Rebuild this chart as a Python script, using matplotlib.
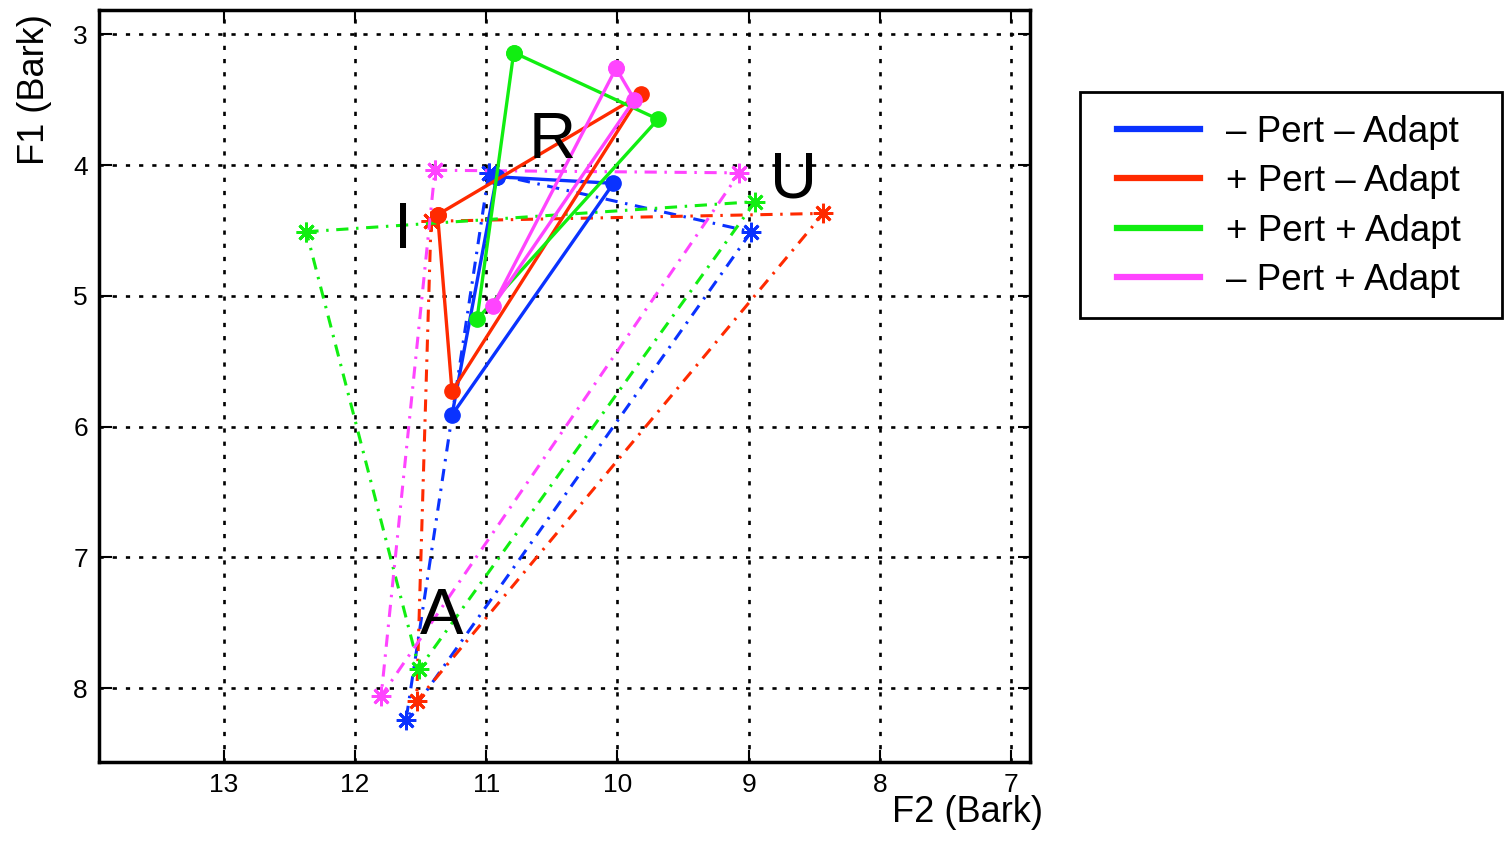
import matplotlib
matplotlib.use("Agg")
import matplotlib.pyplot as plt
from matplotlib.lines import Line2D
from matplotlib.patches import Rectangle

plt.rcParams['font.family'] = ['Liberation Sans', 'DejaVu Sans']

conditions = ['– Pert – Adapt', '+ Pert – Adapt', '+ Pert + Adapt', '– Pert + Adapt']
colors = ['#0a32ff', '#ff2a00', '#11ee11', '#ff44ff']

# Solid triangles (circle markers): F2, F1 of three vertices
solid_f2 = [
    [10.92, 10.03, 11.26],
    [11.37, 9.82, 11.26],
    [10.79, 9.69, 11.07],
    [10.01, 9.87, 10.95],
]
solid_f1 = [
    [4.09, 4.14, 5.91],
    [4.38, 3.46, 5.73],
    [3.14, 3.65, 5.18],
    [3.26, 3.50, 5.08],
]

# Dash-dot triangles (asterisk markers): I, U, A vertices
dash_f2 = [
    [10.98, 8.98, 11.61],
    [11.42, 8.43, 11.53],
    [12.37, 8.95, 11.51],
    [11.39, 9.07, 11.80],
]
dash_f1 = [
    [4.06, 4.51, 8.24],
    [4.43, 4.37, 8.10],
    [4.51, 4.28, 7.85],
    [4.04, 4.06, 8.06],
]

vowel_labels = ['R', 'I', 'U', 'A']
vowel_f2 = [10.50, 11.63, 8.655, 11.34]
vowel_f1 = [3.95, 4.637, 4.247, 7.582]

x_ticks = [13, 12, 11, 10, 9, 8, 7]
y_ticks = [3, 4, 5, 6, 7, 8]

fig = plt.figure(figsize=(15.04, 8.41), dpi=100)
ax = fig.add_axes([99/1504, 1-762/841, 931/1504, 752/841])

dash_style = (0, (4, 2.5, 0.8, 2.5))
for c, xs, ys in zip(colors, dash_f2, dash_f1):
    ax.plot(xs + xs[:1], ys + ys[:1], color=c, lw=2.2, linestyle=dash_style,
            marker=(8, 2, 0), markersize=14, markeredgewidth=2, zorder=3)
for c, xs, ys in zip(colors, solid_f2, solid_f1):
    ax.plot(xs + xs[:1], ys + ys[:1], color=c, lw=2.4, linestyle='-',
            marker='o', markersize=11, zorder=4)

for lab, x, y in zip(vowel_labels, vowel_f2, vowel_f1):
    ax.text(x, y, lab, fontsize=47, ha='center', va='baseline', color='black', zorder=5)

ax.set_xlim(13.95, 6.856)
ax.set_ylim(8.564, 2.815)
ax.set_xticks(x_ticks)
ax.set_yticks(y_ticks)
ax.tick_params(direction='in', length=9, width=1.5, labelsize=19,
               top=True, right=True)
ax.tick_params(axis='x', pad=8)
ax.tick_params(axis='y', pad=8)
ax.grid(True, color='black', linestyle=(0, (1.6, 3.4)), linewidth=1.9)
for sp in ax.spines.values():
    sp.set_linewidth(2.5)

ax.set_xlabel('F2 (Bark)', fontsize=26)
ax.xaxis.set_label_coords((968-99)/931, (762-812)/752)
ax.xaxis.label.set_va('center')
ax.set_ylabel('F1 (Bark)', fontsize=26)
ax.yaxis.set_label_coords((35-99)/931, (762-90)/752)
ax.yaxis.label.set_va('center')

# legend frame drawn explicitly
fig.patches.append(Rectangle((1080/1504, 1-318/841), 422/1504, 226/841,
                             transform=fig.transFigure, facecolor='white',
                             edgecolor='black', linewidth=2, zorder=1))
handles = [Line2D([0], [0], color=c, lw=4.5) for c in colors]
leg = fig.legend(handles, conditions, loc='upper left',
                 bbox_to_anchor=(1117/1504, 1-115/841), fontsize=26.5,
                 handlelength=2.25, handletextpad=0.72, borderpad=0,
                 labelspacing=0.39, borderaxespad=0, frameon=False)

fig.savefig('out.png', dpi=100)
